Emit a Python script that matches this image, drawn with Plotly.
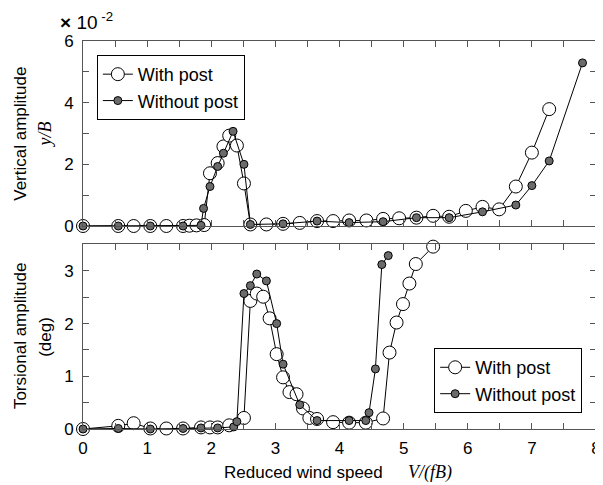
import plotly.graph_objects as go

# ---- Data: vertical amplitude (x10^-2) ----
v_with_x = [0, 0.55, 0.79, 1.05, 1.30, 1.56, 1.66, 1.77, 1.89, 1.98, 2.10, 2.19, 2.28, 2.40, 2.51, 2.61,
            2.86, 3.12, 3.38, 3.65, 3.90, 4.15, 4.42, 4.68, 4.93, 5.20, 5.46, 5.71, 5.97, 6.23, 6.49,
            6.75, 7.00, 7.27]
v_with_y = [0, 0, 0, 0, 0, 0, 0.01, 0.02, 0.03, 1.71, 2.04, 2.58, 2.93, 2.61, 1.38, 0.05,
            0.05, 0.07, 0.10, 0.16, 0.16, 0.18, 0.18, 0.23, 0.25, 0.27, 0.33, 0.30, 0.49, 0.62, 0.54,
            1.28, 2.38, 3.79]
v_without_x = [0, 0.55, 1.05, 1.56, 1.84, 1.88, 1.98, 2.10, 2.19, 2.34, 2.51, 2.61, 3.12, 3.65,
               4.15, 4.68, 5.20, 5.71, 6.23, 6.75, 7.00, 7.27, 7.79]
v_without_y = [0, 0, 0, 0, 0.02, 0.57, 1.28, 1.93, 2.36, 3.07, 2.00, 0.05, 0.07, 0.16,
               0.11, 0.14, 0.27, 0.27, 0.46, 0.68, 1.31, 2.11, 5.29]

# ---- Data: torsional amplitude (deg) ----
t_with_x = [0, 0.55, 0.79, 1.05, 1.30, 1.56, 1.84, 1.98, 2.10, 2.28, 2.51, 2.61, 2.71, 2.81, 2.91,
            3.02, 3.12, 3.22, 3.33, 3.43, 3.53, 3.65, 3.90, 4.15, 4.41, 4.68, 4.78, 4.89, 4.99,
            5.09, 5.19, 5.46]
t_with_y = [0, 0.06, 0.11, 0.01, 0.01, 0.01, 0.03, 0.03, 0.03, 0.07, 0.21, 2.43, 2.57, 2.51, 2.10,
            1.42, 0.98, 0.70, 0.66, 0.39, 0.21, 0.19, 0.13, 0.12, 0.12, 0.20, 1.45, 2.02, 2.37,
            2.76, 3.13, 3.46]
t_without_x = [0, 0.55, 1.05, 1.56, 1.84, 2.10, 2.35, 2.40, 2.51, 2.61, 2.71, 2.86, 3.02, 3.12,
               3.38, 3.65, 4.15, 4.41, 4.46, 4.56, 4.66, 4.76]
t_without_y = [0, 0.01, 0, 0.01, 0.02, 0.02, 0.04, 0.14, 2.57, 2.72, 2.94, 2.81, 2.00, 1.23,
               0.46, 0.16, 0.16, 0.16, 0.31, 1.14, 3.12, 3.29]

x_ticks = [i * 0.5 for i in range(17)]
x_ticktext = [str(int(v)) if v == int(v) else "" for v in x_ticks]
vy_ticks = [0, 1, 2, 3, 4, 5, 6]
vy_ticktext = ["0", "", "2", "", "4", "", "6"]
ty_ticks = [0, 0.5, 1, 1.5, 2, 2.5, 3, 3.5]
ty_ticktext = ["0", "", "1", "", "2", "", "3", ""]

FRAME = "#555555"
SANS = "Liberation Sans, Arial, sans-serif"
SERIF = "Liberation Serif, Times New Roman, serif"

open_marker = dict(symbol="circle", size=13, color="white", line=dict(color="black", width=1))
fill_marker = dict(symbol="circle", size=8, color="#6b6b6b", line=dict(color="black", width=1))
line_style = dict(color="black", width=1)

fig = go.Figure()
fig.add_trace(go.Scatter(x=v_with_x, y=v_with_y, mode="lines+markers", name="With post",
                         marker=open_marker, line=line_style, xaxis="x", yaxis="y",
                         cliponaxis=False, legend="legend"))
fig.add_trace(go.Scatter(x=v_without_x, y=v_without_y, mode="lines+markers", name="Without post",
                         marker=fill_marker, line=line_style, xaxis="x", yaxis="y",
                         cliponaxis=False, legend="legend"))
fig.add_trace(go.Scatter(x=t_with_x, y=t_with_y, mode="lines+markers", name="With post",
                         marker=open_marker, line=line_style, xaxis="x2", yaxis="y2",
                         cliponaxis=False, legend="legend2"))
fig.add_trace(go.Scatter(x=t_without_x, y=t_without_y, mode="lines+markers", name="Without post",
                         marker=fill_marker, line=line_style, xaxis="x2", yaxis="y2",
                         cliponaxis=False, legend="legend2"))

axis_common = dict(showline=True, linecolor=FRAME, linewidth=1, mirror="allticks",
                   ticks="inside", ticklen=6, tickcolor=FRAME, showgrid=False, zeroline=False,
                   ticklabeloverflow="allow",
                   tickfont=dict(family=SANS, size=17, color="black"))

# page body has an 8px margin, so the figure is offset by (8, 8)
fig.update_layout(
    width=595, height=477,
    paper_bgcolor="white", plot_bgcolor="white",
    margin=dict(l=75, r=2, t=33, b=56),
    font=dict(family=SANS, color="black"),
    xaxis=dict(domain=[0, 1], range=[0, 8], anchor="y", tickvals=x_ticks,
               showticklabels=False, **axis_common),
    yaxis=dict(domain=[0.5232, 1.0], range=[0, 6], anchor="x", tickvals=vy_ticks,
               ticktext=vy_ticktext, ticklabelstandoff=5, **axis_common),
    xaxis2=dict(domain=[0, 1], range=[0, 8], anchor="y2", tickvals=x_ticks,
                ticktext=x_ticktext, ticklabelstandoff=4, **axis_common),
    yaxis2=dict(domain=[0, 0.4768], range=[0, 3.51], anchor="x2", tickvals=ty_ticks,
                ticktext=ty_ticktext, ticklabelstandoff=5, **axis_common),
    legend=dict(x=0.027, y=0.964, xanchor="left", yanchor="top", bordercolor="black",
                borderwidth=1, bgcolor="white", font=dict(family=SANS, size=18),
                tracegroupgap=0, itemwidth=30),
    legend2=dict(x=0.973, y=0.041, xanchor="right", yanchor="bottom", bordercolor="black",
                 borderwidth=1, bgcolor="white", font=dict(family=SANS, size=18),
                 tracegroupgap=0, itemwidth=30),
    showlegend=True,
)

annotations = [
    dict(text="Vertical amplitude", x=-0.1216, y=0.76, textangle=-90,
         font=dict(family=SANS, size=17)),
    dict(text="<i>y/B</i>", x=-0.0734, y=0.76, textangle=-90,
         font=dict(family=SERIF, size=18)),
    dict(text="Torsional amplitude", x=-0.1216, y=0.2384, textangle=-90,
         font=dict(family=SANS, size=17)),
    dict(text="(deg)", x=-0.0734, y=0.2384, textangle=-90,
         font=dict(family=SANS, size=17)),
    dict(text="Reduced wind speed", x=0.4305, y=-0.1134,
         font=dict(family=SANS, size=17)),
    dict(text="<i>V/(fB)</i>", x=0.6757, y=-0.1134,
         font=dict(family=SERIF, size=18)),
    dict(text="<b>×</b> 10<sup> -2</sup>", x=0.062, y=1.052, xanchor="right",
         font=dict(family=SANS, size=19)),
]
for a in annotations:
    a.setdefault("xanchor", "center")
    a.update(xref="paper", yref="paper", yanchor="middle", showarrow=False)
    fig.add_annotation(**a)

fig.write_html("out.html")
